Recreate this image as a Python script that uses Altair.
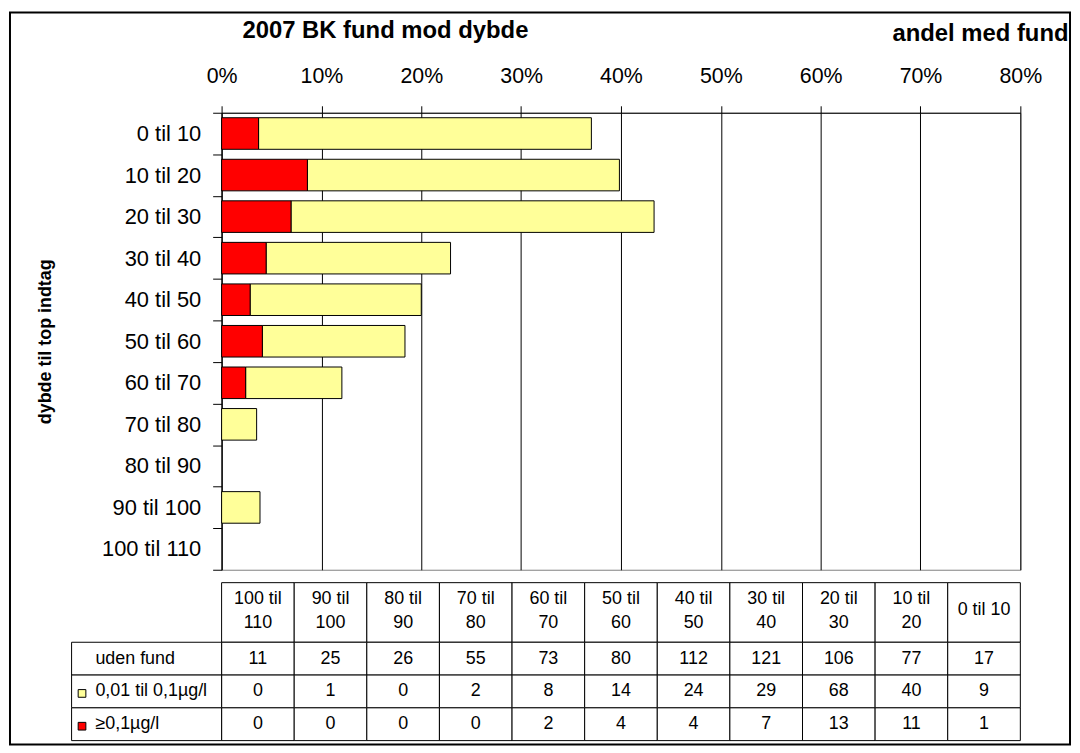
import altair as alt
import pandas as pd

# ---- data ----
depths = ["100 til 110", "90 til 100", "80 til 90", "70 til 80", "60 til 70",
          "50 til 60", "40 til 50", "30 til 40", "20 til 30", "10 til 20", "0 til 10"]
uden_fund = [11, 25, 26, 55, 73, 80, 112, 121, 106, 77, 17]
lav_fund = [0, 1, 0, 2, 8, 14, 24, 29, 68, 40, 9]
hoej_fund = [0, 0, 0, 0, 2, 4, 4, 7, 13, 11, 1]
row_labels = ["uden fund", "0,01 til 0,1µg/l", "≥0,1µg/l"]
x_ticks = [0, 0.1, 0.2, 0.3, 0.4, 0.5, 0.6, 0.7, 0.8]

YELLOW = "#FFFF99"
RED = "#FF0000"

long = pd.DataFrame({
    "depth": depths * 3,
    "row": [row_labels[0]] * len(depths) + [row_labels[1]] * len(depths) + [row_labels[2]] * len(depths),
    "count": uden_fund + lav_fund + hoej_fund,
})
bar_order = list(reversed(depths))

# ---- top chart: stacked share bars ----
bars = alt.Chart(long).transform_joinaggregate(
    total="sum(count)", groupby=["depth"]
).transform_calculate(
    frac="datum.count / datum.total",
    ord=f"datum.row == '{row_labels[2]}' ? 0 : 1",
).transform_filter(
    f"datum.row != '{row_labels[0]}' && datum.count > 0"
).mark_bar(
    stroke="black", strokeWidth=1, height=alt.RelativeBandSize(0.76)
).encode(
    x=alt.X("frac:Q", stack="zero",
            scale=alt.Scale(domain=[0, 0.8], nice=False, zero=True),
            axis=alt.Axis(orient="top", format="%", values=x_ticks, grid=True,
                          gridColor="black", gridWidth=1, tickSize=7, tickColor="black",
                          domainColor="black", labelFontSize=21.5, labelPadding=18,
                          labelFlush=False, labelColor="black", title="andel med fund",
                          titleFontSize=24, titleFontWeight="bold", titleColor="black",
                          titleX=852, titleY=-80, titleAlign="right", titleBaseline="middle")),
    y=alt.Y("depth:N", sort=bar_order,
            scale=alt.Scale(domain=bar_order, paddingInner=0, paddingOuter=0),
            axis=alt.Axis(tickBand="extent", tickSize=9, tickColor="black",
                          domainColor="black", labelFontSize=22, labelPadding=12,
                          labelColor="black", title="dybde til top indtag",
                          titleFontSize=18, titleFontWeight="bold", titleColor="black",
                          titleX=-177, titleBaseline="middle", grid=False)),
    color=alt.Color("row:N", scale=alt.Scale(domain=[row_labels[2], row_labels[1]],
                                             range=[RED, YELLOW]), legend=None),
    order=alt.Order("ord:Q"),
)

border = alt.Chart(alt.Data(values=[{}])).mark_rect(
    fillOpacity=0, stroke="black", strokeWidth=2
).encode(x=alt.value(-213), x2=alt.value(854), y=alt.value(-101), y2=alt.value(636))

top = alt.layer(bars, border).properties(
    width=804, height=460,
    view=alt.ViewBackground(stroke="#808080", strokeWidth=1),
    title=alt.TitleParams("2007 BK fund mod dybde", anchor="start", frame="group",
                          dx=21, offset=-32, fontSize=24, fontWeight="bold", color="black"),
)

# ---- bottom: data table ----
cols_df = pd.DataFrame({"depth": depths})
lbl_df = pd.DataFrame({"row": row_labels})

band0 = dict(paddingInner=0, paddingOuter=0)
hx = alt.X("depth:N", scale=alt.Scale(domain=depths, range=[0, 804], **band0), axis=None)
hy = alt.Y("h:N", scale=alt.Scale(domain=["h"], range=[0, 60], **band0), axis=None)
by = alt.Y("row:N", scale=alt.Scale(domain=row_labels, range=[60, 159], **band0), axis=None)
lx = alt.X("c:N", scale=alt.Scale(domain=["c"], range=[-151, 0], **band0), axis=None)

hdr_rect = alt.Chart(cols_df).transform_calculate(h="'h'").mark_rect(
    fill="white", stroke="black", strokeWidth=1).encode(x=hx, y=hy)
hdr_text2 = alt.Chart(cols_df).transform_filter("length(datum.depth) > 8").transform_calculate(
    h="'h'", lbl="replace(datum.depth, ' til ', ' til\\n')",
).mark_text(fontSize=18, lineBreak="\n", lineHeight=25, baseline="middle", dy=-14,
            color="black").encode(x=hx, y=hy, text="lbl:N")
hdr_text1 = alt.Chart(cols_df).transform_filter("length(datum.depth) <= 8").transform_calculate(
    h="'h'").mark_text(fontSize=18, baseline="middle", dy=-2, color="black").encode(
    x=hx, y=hy, text="depth:N")

body_rect = alt.Chart(long).mark_rect(fill="white", stroke="black", strokeWidth=1).encode(x=hx, y=by)
body_text = alt.Chart(long).mark_text(fontSize=18, baseline="middle", color="black").encode(
    x=hx, y=by, text="count:Q")

lbl_rect = alt.Chart(lbl_df).transform_calculate(c="'c'").mark_rect(
    fill="white", stroke="black", strokeWidth=1).encode(x=lx, y=by)
lbl_text = alt.Chart(lbl_df).transform_calculate(c="'c'").mark_text(
    align="left", dx=-51.5, fontSize=18, baseline="middle", color="black").encode(
    x=lx, y=by, text="row:N")
swatch = alt.Chart(lbl_df).transform_calculate(c="'c'").transform_filter(
    f"datum.row != '{row_labels[0]}'").mark_point(
    shape="square", filled=True, size=60, stroke="black", strokeWidth=1, opacity=1,
    xOffset=-65, yOffset=2
).encode(
    x=lx, y=by,
    color=alt.Color("row:N", scale=alt.Scale(domain=[row_labels[1], row_labels[2]],
                                             range=[YELLOW, RED]), legend=None),
)

table = alt.layer(hdr_rect, hdr_text2, hdr_text1, body_rect, body_text,
                  lbl_rect, lbl_text, swatch).resolve_scale(
    x="independent", y="independent", color="independent"
).properties(width=804, height=159)

chart = alt.vconcat(top, table, spacing=13, bounds="flush").properties(
    padding=0
).configure(font="Liberation Sans").configure_view(strokeWidth=0)

chart.save("out.html", embed_options={"renderer": "svg", "actions": False})
